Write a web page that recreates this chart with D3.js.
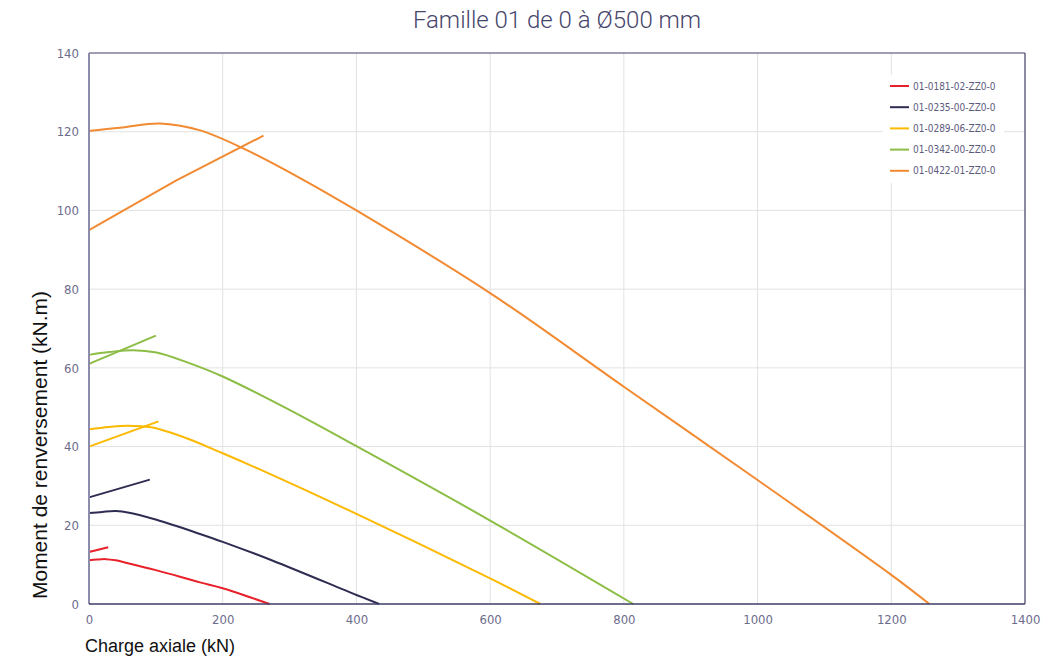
<!DOCTYPE html>
<html>
<head>
<meta charset="utf-8">
<script src="https://cdn.jsdelivr.net/npm/d3@7"></script>
<style>
  html, body { margin: 0; padding: 0; background: #fff; }
  svg { display: block; }
</style>
</head>
<body>
<svg id="chart" width="1049" height="660"></svg>
<script>
// ---- data ----
const chartTitle = "Famille 01 de 0 à Ø500 mm";
const xTitle = "Charge axiale (kN)";
const yTitle = "Moment de renversement (kN.m)";
const xTicks = [0, 200, 400, 600, 800, 1000, 1200, 1400];
const yTicks = [0, 20, 40, 60, 80, 100, 120, 140];
const seriesNames = ["01-0181-02-ZZ0-0", "01-0235-00-ZZ0-0", "01-0289-06-ZZ0-0", "01-0342-00-ZZ0-0", "01-0422-01-ZZ0-0"];
const seriesColors = ["#e8202a", "#2e2c52", "#fbb900", "#8cbd45", "#f28a32"];

// straight short segments [charge, moment]
const line0181 = [[0, 13.2], [28.8, 14.4]];
const line0235 = [[0, 27.1], [91, 31.6]];
const line0289 = [[0, 40.0], [104, 46.4]];
const line0342 = [[0, 61.0], [100, 68.2]];
const line0422 = [[0, 95.0], [130, 107.6], [261, 119.0]];

// curves [charge, moment]
const curve0181 = [[0, 11.1], [12, 11.3], [25, 11.4], [40, 11.1], [55, 10.5], [100, 8.6], [166, 5.5], [200, 4.0], [270, 0]];
const curve0235 = [[0, 23.1], [20, 23.4], [40, 23.6], [60, 23.2], [101, 21.4], [166, 17.8], [200, 15.8], [275, 11.0], [400, 2.3], [434, 0]];
const curve0289 = [[0, 44.4], [30, 45.0], [58, 45.3], [93, 44.9], [143, 42.3], [200, 38.3], [258, 34.0], [400, 22.9], [600, 6.5], [675, 0]];
const curve0342 = [[0, 63.3], [30, 64.0], [66, 64.5], [101, 63.9], [150, 61.2], [200, 57.8], [292, 50.0], [400, 40.1], [600, 21.2], [814, 0]];
const curve0422 = [[0, 120.2], [50, 121.1], [106, 122.1], [165, 120.4], [229, 115.9], [315, 108.3], [400, 100.0], [600, 79.0], [800, 55.2], [1000, 31.5], [1200, 7.4], [1257, 0]];

const seriesLines = [line0181, line0235, line0289, line0342, line0422];
const seriesCurves = [curve0181, curve0235, curve0289, curve0342, curve0422];

(function () {
// ---- layout ----
const svg = d3.select("#chart");
const mLeft = 89, mRight = 1025, mTop = 53, mBottom = 604;
const x = d3.scaleLinear().domain([0, 1400]).range([mLeft, mRight]);
const y = d3.scaleLinear().domain([0, 140]).range([mBottom, mTop]);
const tickFont = "'DejaVu Sans', sans-serif";

// gridlines
svg.append("g").selectAll("line").data(xTicks.slice(1, -1)).join("line")
  .attr("x1", d => x(d)).attr("x2", d => x(d)).attr("y1", mTop).attr("y2", mBottom)
  .attr("stroke", "#e2e2e2").attr("stroke-width", 1);
svg.append("g").selectAll("line").data(yTicks.slice(1, -1)).join("line")
  .attr("y1", d => y(d)).attr("y2", d => y(d)).attr("x1", mLeft).attr("x2", mRight)
  .attr("stroke", "#e2e2e2").attr("stroke-width", 1);

// axes
const xAxis = svg.append("g").attr("transform", `translate(0,${mBottom})`)
  .call(d3.axisBottom(x).tickValues(xTicks).tickFormat(d3.format("d")).tickSize(0).tickPadding(11));
const yAxis = svg.append("g").attr("transform", `translate(${mLeft},0)`)
  .call(d3.axisLeft(y).tickValues(yTicks).tickFormat(d3.format("d")).tickSize(0).tickPadding(10));
[xAxis, yAxis].forEach(a => {
  a.select(".domain").remove();
  a.selectAll("text").attr("fill", "#6c6c8c").style("font-family", tickFont)
    .style("font-stretch", "condensed").style("font-size", "13px");
});

// series
const lineGen = d3.line().x(d => x(d[0])).y(d => y(d[1]));
const curveGen = d3.line().x(d => x(d[0])).y(d => y(d[1])).curve(d3.curveCatmullRom.alpha(0.5));
const plot = svg.append("g");
seriesNames.forEach((name, i) => {
  plot.append("path").datum(seriesLines[i]).attr("d", lineGen)
    .attr("fill", "none").attr("stroke", seriesColors[i]).attr("stroke-width", 2);
  plot.append("path").datum(seriesCurves[i]).attr("d", curveGen)
    .attr("fill", "none").attr("stroke", seriesColors[i]).attr("stroke-width", 2);
});

// frame
svg.append("line").attr("x1", mLeft).attr("x2", mRight).attr("y1", mTop).attr("y2", mTop).attr("stroke", "#3e3d66").attr("stroke-width", 1.2);
svg.append("line").attr("x1", mRight).attr("x2", mRight).attr("y1", mTop).attr("y2", mBottom).attr("stroke", "#3e3d66").attr("stroke-width", 1.2);
svg.append("line").attr("x1", mLeft).attr("x2", mLeft).attr("y1", mTop).attr("y2", mBottom).attr("stroke", "#8d8cab").attr("stroke-width", 2);
svg.append("line").attr("x1", mLeft).attr("x2", mRight).attr("y1", mBottom).attr("y2", mBottom).attr("stroke", "#3e3d66").attr("stroke-width", 1.5);

// legend
const lg = svg.append("g");
lg.append("rect").attr("x", 883).attr("y", 75).attr("width", 121).attr("height", 108).attr("fill", "#fff");
seriesNames.forEach((name, i) => {
  const ly = 86 + i * 21.2;
  lg.append("line").attr("x1", 890).attr("x2", 909).attr("y1", ly).attr("y2", ly)
    .attr("stroke", seriesColors[i]).attr("stroke-width", 2);
  lg.append("text").attr("x", 913).attr("y", ly).attr("dy", "0.35em")
    .attr("fill", "#5c5b7d").style("font-family", tickFont).style("font-stretch", "condensed")
    .style("font-size", "10px").text(name);
});

// titles
svg.append("text").attr("x", (mLeft + mRight) / 2).attr("y", 28).attr("text-anchor", "middle")
  .attr("fill", "#46456c").style("font-family", "Roboto, 'Liberation Sans', sans-serif").style("font-weight", "300")
  .style("font-size", "24px").text(chartTitle);
svg.append("text").attr("x", 85).attr("y", 652)
  .attr("fill", "#111").style("font-family", "'Liberation Sans', Arial, sans-serif").style("font-size", "18px").text(xTitle);
svg.append("text").attr("transform", `translate(47,445) rotate(-90)`).attr("text-anchor", "middle")
  .attr("fill", "#111").style("font-family", "'Liberation Sans', Arial, sans-serif").style("font-size", "21px").text(yTitle);
})();
</script>
</body>
</html>
